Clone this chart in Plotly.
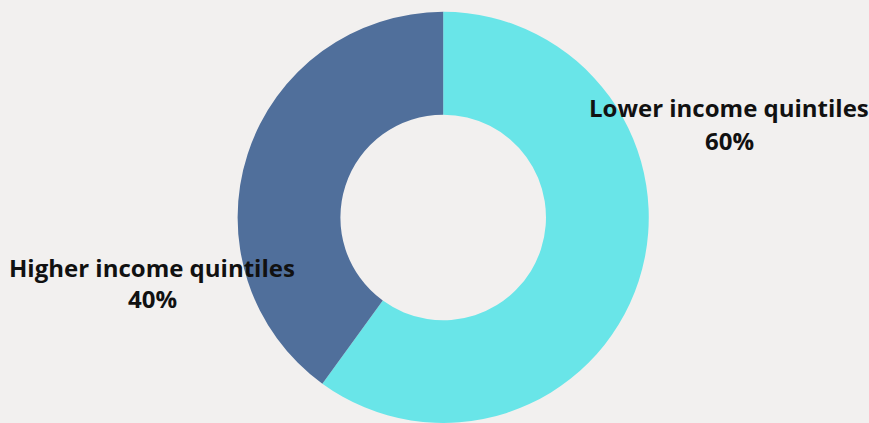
import plotly.graph_objects as go

categories = ["Lower income quintiles", "Higher income quintiles"]
values = [60, 40]
colors = ["#69E5E8", "#506F9B"]

W, H = 869, 423
bg = "#F2F0EF"

fig = go.Figure(go.Pie(
    labels=categories,
    values=values,
    hole=0.5,
    sort=False,
    direction="clockwise",
    rotation=0,
    marker=dict(colors=colors, line=dict(width=0)),
    textinfo="none",
    hoverinfo="label+percent",
    showlegend=False,
    domain=dict(x=[0.272, 0.748], y=[0.0, 0.972]),
))

label_pos = [(729, 107, 140), (152, 267, 298)]  # pixel centres (x, y line1, y line2)
total = sum(values)
for cat, val, (px, py1, py2) in zip(categories, values, label_pos):
    pct = f"{round(100 * val / total)}%"
    for txt, py in ((cat, py1), (pct, py2)):
        fig.add_annotation(
            text=f"<b>{txt}</b>", x=px / W, y=1 - py / H,
            xref="paper", yref="paper", xanchor="center", yanchor="middle",
            showarrow=False,
            font=dict(family="Open Sans", size=24, color="#111111"),
        )

fig.update_layout(
    width=W, height=H,
    margin=dict(l=0, r=0, t=0, b=0),
    paper_bgcolor=bg, plot_bgcolor=bg,
)

fig.write_html(
    "out.html",
    config={"displayModeBar": False},
    post_script="document.body.style.margin='0';document.body.style.background='%s';" % bg,
)
